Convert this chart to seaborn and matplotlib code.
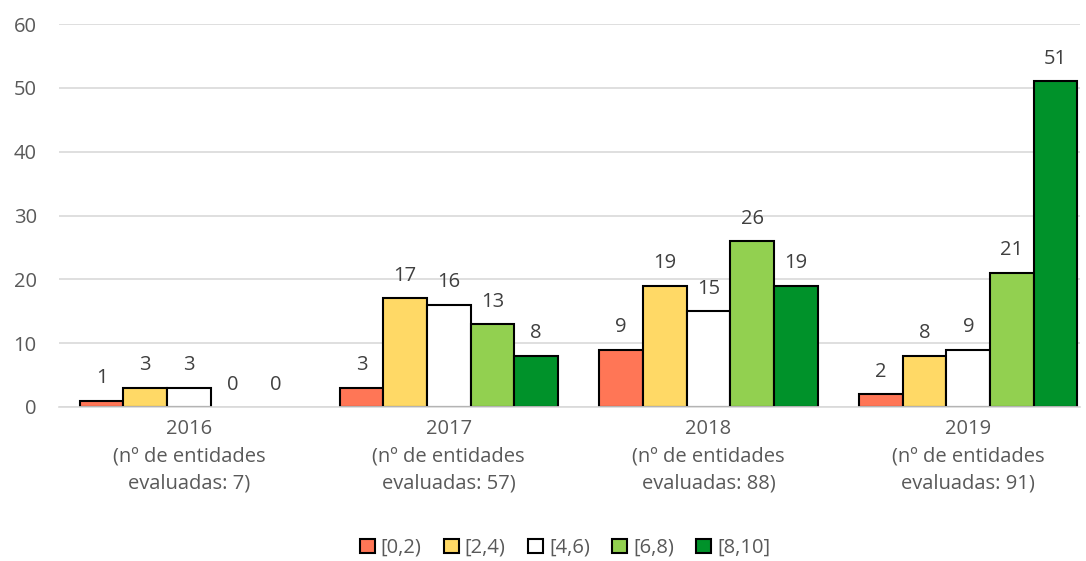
import numpy as np
import pandas as pd
import matplotlib
matplotlib.use("Agg")
import matplotlib.pyplot as plt
import seaborn as sns
from matplotlib.patches import Patch

# data
years = ["2016\n(nº de entidades\nevaluadas: 7)",
         "2017\n(nº de entidades\nevaluadas: 57)",
         "2018\n(nº de entidades\nevaluadas: 88)",
         "2019\n(nº de entidades\nevaluadas: 91)"]
ranges = ["[0,2)", "[2,4)", "[4,6)", "[6,8)", "[8,10]"]
counts_0_2 = [1, 3, 9, 2]
counts_2_4 = [3, 17, 19, 8]
counts_4_6 = [3, 16, 15, 9]
counts_6_8 = [0, 13, 26, 21]
counts_8_10 = [0, 8, 19, 51]
colors = ["#FF7656", "#FFD966", "#FFFFFF", "#92D050", "#00922A"]

series = [counts_0_2, counts_2_4, counts_4_6, counts_6_8, counts_8_10]
df = pd.DataFrame({
    "year": [y for _ in ranges for y in years],
    "range": [r for r in ranges for _ in years],
    "count": [v for s in series for v in s],
})

sns.set_theme(style="white")
plt.rcParams["font.family"] = ["Open Sans", "DejaVu Sans"]
FS = 14.5

fig = plt.figure(figsize=(10.86, 5.61), dpi=100)
ax = fig.add_axes([59 / 1086, 1 - 407 / 561, 1021 / 1086, (407 - 24) / 561])

sns.barplot(data=df, x="year", y="count", hue="range", order=years,
            hue_order=ranges, palette=colors, width=0.84, gap=0,
            edgecolor="black", linewidth=1.5, saturation=1, legend=False, ax=ax)

# no outline on empty bars
for p in ax.patches:
    if p.get_height() == 0:
        p.set_linewidth(0)

for cont in ax.containers:
    ax.bar_label(cont, fmt="%d", padding=9, fontsize=FS, color="#404040")

ax.set_ylim(0, 60)
ax.set_xlim(-0.5, 3.43)
ax.set_yticks(np.arange(0, 61, 10))
ax.set_xticks(range(len(years)))
ax.set_xticklabels(years, linespacing=1.45)
ax.yaxis.grid(True, color="#D9D9D9", linewidth=1.2)
ax.set_axisbelow(True)
for side in ["top", "right", "left"]:
    ax.spines[side].set_visible(False)
ax.spines["bottom"].set_color("#D9D9D9")
ax.spines["bottom"].set_linewidth(1.2)
ax.tick_params(axis="both", length=0, labelsize=FS, labelcolor="#595959")
ax.tick_params(axis="x", pad=9)
ax.tick_params(axis="y", pad=16)
ax.set_xlabel("")
ax.set_ylabel("")

handles = [Patch(facecolor=c, edgecolor="black", linewidth=1.5) for c in colors]
fig.legend(handles, ranges, loc="center", bbox_to_anchor=(565 / 1086, 1 - 548 / 561),
           ncol=5, frameon=False, fontsize=FS, handlelength=0.75,
           handleheight=0.75, handletextpad=0.3, columnspacing=1.1,
           labelcolor="#595959")

fig.savefig("out.png", dpi=100)
